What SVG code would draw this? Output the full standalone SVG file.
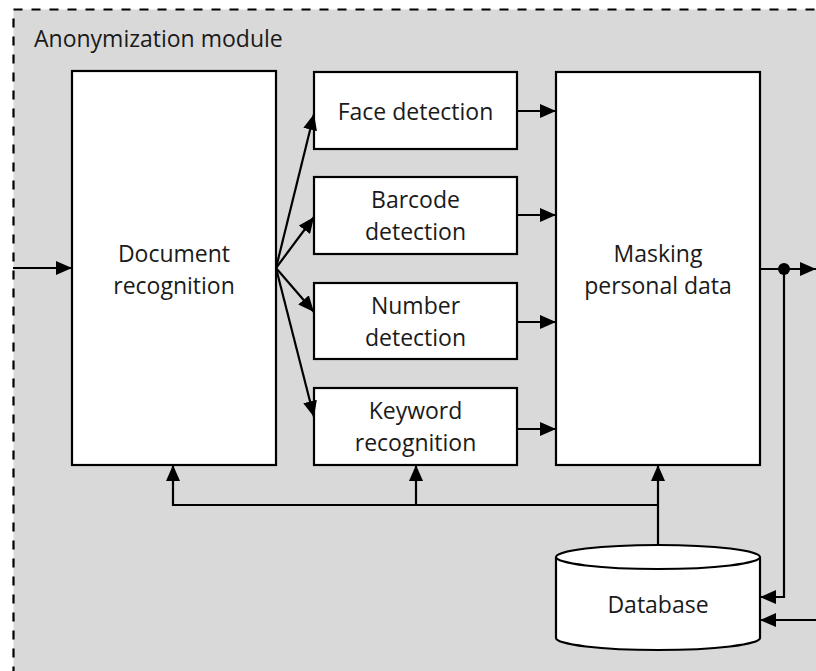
<svg xmlns="http://www.w3.org/2000/svg" width="816" height="671" viewBox="0 0 816 671">
  <style>
    .box { fill: #ffffff; stroke: #000000; stroke-width: 2.2; }
    .lbl { font-family: "Open Sans", "Liberation Sans", sans-serif; font-size: 23px; fill: #1a1a1a; text-anchor: middle; }
    .conn { fill: none; stroke: #000000; stroke-width: 2.2; }
  </style>
  <defs>
    <marker id="arrow" viewBox="0 0 16 14" refX="16" refY="7" markerWidth="16" markerHeight="14" markerUnits="userSpaceOnUse" orient="auto">
      <path d="M0,0 L16,7 L0,14 Z" fill="#000000"/>
    </marker>
  </defs>

  <!-- module frame -->
  <g id="module">
    <rect x="13.5" y="9.5" width="830" height="700" fill="#d9d9d9" stroke="#000000" stroke-width="2.2" stroke-dasharray="9,9"/>
    <text x="34" y="47" class="lbl" style="text-anchor:start">Anonymization module</text>
  </g>

  <g id="document-recognition">
    <rect class="box" x="72" y="71" width="204" height="394"/>
    <text class="lbl" x="174" y="262">Document</text>
    <text class="lbl" x="174" y="294">recognition</text>
  </g>

  <g id="face-detection">
    <rect class="box" x="314" y="72" width="203" height="77"/>
    <text class="lbl" x="415.5" y="120">Face detection</text>
  </g>

  <g id="barcode-detection">
    <rect class="box" x="314" y="177" width="203" height="77"/>
    <text class="lbl" x="415.5" y="208">Barcode</text>
    <text class="lbl" x="415.5" y="240">detection</text>
  </g>

  <g id="number-detection">
    <rect class="box" x="314" y="283" width="203" height="76"/>
    <text class="lbl" x="415.5" y="314">Number</text>
    <text class="lbl" x="415.5" y="346">detection</text>
  </g>

  <g id="keyword-recognition">
    <rect class="box" x="314" y="388" width="203" height="77"/>
    <text class="lbl" x="415.5" y="419">Keyword</text>
    <text class="lbl" x="415.5" y="451">recognition</text>
  </g>

  <g id="masking">
    <rect class="box" x="556" y="72" width="204" height="393"/>
    <text class="lbl" x="658" y="262">Masking</text>
    <text class="lbl" x="658" y="294">personal data</text>
  </g>

  <g id="database">
    <path class="box" d="M556,557 L556,638 A102,12 0 0 0 760,638 L760,557"/>
    <ellipse class="box" cx="658" cy="557" rx="102" ry="12"/>
    <text class="lbl" x="658" y="613">Database</text>
  </g>

  <g id="connectors">
    <!-- input -->
    <line class="conn" x1="13" y1="268" x2="72" y2="268" marker-end="url(#arrow)"/>
    <!-- fan-out from document recognition -->
    <line class="conn" x1="276" y1="268" x2="314" y2="114" marker-end="url(#arrow)"/>
    <line class="conn" x1="276" y1="268" x2="314" y2="217" marker-end="url(#arrow)"/>
    <line class="conn" x1="276" y1="268" x2="314" y2="312" marker-end="url(#arrow)"/>
    <line class="conn" x1="276" y1="268" x2="314" y2="417" marker-end="url(#arrow)"/>
    <!-- detectors into masking -->
    <line class="conn" x1="517" y1="111" x2="556" y2="111" marker-end="url(#arrow)"/>
    <line class="conn" x1="517" y1="215" x2="556" y2="215" marker-end="url(#arrow)"/>
    <line class="conn" x1="517" y1="322" x2="556" y2="322" marker-end="url(#arrow)"/>
    <line class="conn" x1="517" y1="429" x2="556" y2="429" marker-end="url(#arrow)"/>
    <!-- output with branch to database -->
    <line class="conn" x1="760" y1="269" x2="816" y2="269" marker-end="url(#arrow)"/>
    <circle cx="784" cy="269" r="6" fill="#000000"/>
    <polyline class="conn" points="784,269 784,597 760,597" marker-end="url(#arrow)"/>
    <line class="conn" x1="816" y1="620" x2="760" y2="620" marker-end="url(#arrow)"/>
    <!-- database feedback -->
    <line class="conn" x1="658" y1="545" x2="658" y2="465" marker-end="url(#arrow)"/>
    <polyline class="conn" points="658,505 173,505 173,465" marker-end="url(#arrow)"/>
    <line class="conn" x1="416" y1="505" x2="416" y2="465" marker-end="url(#arrow)"/>
  </g>
</svg>
